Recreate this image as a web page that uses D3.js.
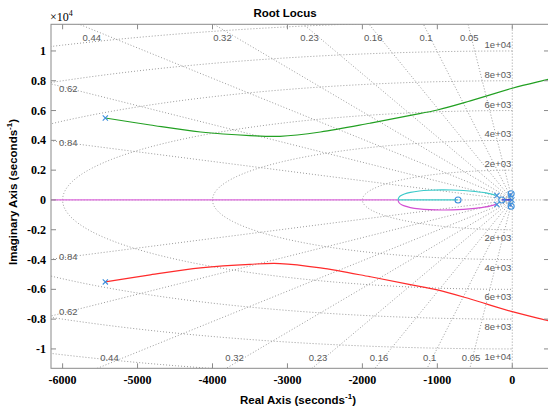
<!DOCTYPE html>
<html>
<head>
<meta charset="utf-8">
<script src="https://cdn.jsdelivr.net/npm/d3@7"></script>
<style>
  body { margin: 0; background: #fff; }
  svg { display: block; }
</style>
</head>
<body>
<div id="chart"></div>
<script>
// branch points [real, imag]
const greenBranch = [[-5430, 5500], [-4830, 5030], [-4160, 4560], [-3500, 4320], [-3100, 4270], [-2560, 4560],
    [-1900, 5150], [-1360, 5680], [-1000, 6040], [-560, 6650], [0, 7500], [480, 8100], [760, 8450]];
const redBranch = [[-5430, -5500], [-4830, -5030], [-4160, -4560], [-3500, -4320], [-3100, -4270], [-2560, -4560],
    [-1900, -5150], [-1360, -5680], [-1000, -6040], [-560, -6650], [0, -7500], [480, -8100], [760, -8450]];
const cyanArc = [[-205, 300], [-350, 470], [-500, 570], [-650, 635], [-800, 668], [-950, 675], [-1100, 650],
    [-1240, 600], [-1360, 510], [-1440, 400], [-1490, 280], [-1515, 150], [-1524, 0]];
const cyanReal = [[-1524, 0], [-724, 0]];
const magentaArc = [[-205, -300], [-350, -470], [-500, -570], [-650, -635], [-800, -668], [-950, -675], [-1100, -650],
    [-1240, -600], [-1360, -510], [-1440, -400], [-1490, -280], [-1515, -150], [-1524, 0]];
const magentaReal = [[-1524, 0], [-7000, 0]];
const blueBranch = [[-5, 0], [-140, 0]];
const blueUpper = [[-25, 330], [-15, 420]];
const blueLower = [[-25, -330], [-15, -420]];

const poles = [[-5430, 5500], [-5430, -5500], [-205, 300], [-205, -300], [-5, 0], [-25, 330], [-25, -330]];
const zeros = [[-724, 0], [-140, 0], [-15, 420], [-15, -420]];

// sgrid
const zetaValues = [0.05, 0.1, 0.16, 0.23, 0.32, 0.44, 0.62, 0.84];
const zetaLabels = ["0.05", "0.1", "0.16", "0.23", "0.32", "0.44", "0.62", "0.84"];
const wnValues = [2000, 4000, 6000, 8000, 10000, 12000];
const wnLabels = ["2e+03", "4e+03", "6e+03", "8e+03", "1e+04", "1.2e+04"];

// ticks
const xTicks = [-6000, -5000, -4000, -3000, -2000, -1000, 0];
const yTicks = [-10000, -8000, -6000, -4000, -2000, 0, 2000, 4000, 6000, 8000, 10000];

const W = 548, H = 412;
const plot = { left: 51, right: 549, top: 24.3, bottom: 368.3 };

const svg = d3.select("#chart").append("svg")
    .attr("width", W).attr("height", H);

const x = d3.scaleLinear().domain([-6155, 490]).range([plot.left, plot.right]);
const y = d3.scaleLinear().domain([-11300, 11790]).range([plot.bottom, plot.top]);

svg.append("defs").append("clipPath").attr("id", "clip")
    .append("rect")
    .attr("x", plot.left).attr("y", plot.top)
    .attr("width", plot.right - plot.left).attr("height", plot.bottom - plot.top);

const gridG = svg.append("g").attr("clip-path", "url(#clip)");
const line = d3.line().x(d => x(d[0])).y(d => y(d[1]));
const gridStyle = sel => sel.attr("fill", "none").attr("stroke", "#9a9a9a")
    .attr("stroke-width", 1).attr("stroke-dasharray", "1,2");

// 频率圆 (left half plane)
const angles = d3.range(90, 270.5, 1).map(a => a * Math.PI / 180);
wnValues.forEach(wn => {
    gridG.append("path")
        .datum(angles.map(a => [wn * Math.cos(a), wn * Math.sin(a)]))
        .call(gridStyle)
        .attr("d", line);
});

// 阻尼线
zetaValues.forEach(z => {
    const s = Math.sqrt(1 - z * z);
    [1, -1].forEach(sign => {
        gridG.append("path")
            .datum([[0, 0], [-z * 30000, sign * s * 30000]])
            .call(gridStyle)
            .attr("d", line);
    });
});
// axes lines
gridG.append("path").datum([[-7000, 0], [1000, 0]]).call(gridStyle).attr("d", line);
gridG.append("path").datum([[0, -13000], [0, 13000]]).call(gridStyle).attr("d", line);

// grid labels
const labelG = svg.append("g").attr("clip-path", "url(#clip)")
    .style("font-family", "Arial, 'Liberation Sans', sans-serif")
    .style("font-size", "9.5px")
    .attr("fill", "#5a5a5a");

zetaValues.forEach((z, i) => {
    const slope = Math.sqrt(1 - z * z) / z;
    const topEdgeReal = -y.domain()[1] / slope;
    if (x(topEdgeReal) > plot.left + 10) {
        // 上下两端
        const reTop = -11450 / slope, reBot = -10970 / slope;
        labelG.append("text").attr("x", x(reTop)).attr("y", y(11450) + 12)
            .attr("text-anchor", "middle").text(zetaLabels[i]);
        labelG.append("text").attr("x", x(reBot)).attr("y", y(-10970) - 2)
            .attr("text-anchor", "middle").text(zetaLabels[i]);
    } else {
        // 左侧
        const re = -5924;
        [1, -1].forEach(sign => {
            labelG.append("text").attr("x", x(re)).attr("y", y(-re * slope * sign) + 3.5)
                .attr("text-anchor", "middle").text(zetaLabels[i]);
        });
    }
});

// 频率标签, only the ones inside the frame
wnValues.forEach((wn, i) => {
    if (wn + 1000 > y.domain()[1]) return;
    labelG.append("text").attr("x", x(0) - 1).attr("y", y(wn) - 3)
        .attr("text-anchor", "end").text(wnLabels[i]);
    labelG.append("text").attr("x", x(0) - 1).attr("y", y(-wn) + 11)
        .attr("text-anchor", "end").text(wnLabels[i]);
});

// 根轨迹
const locusG = svg.append("g").attr("clip-path", "url(#clip)");
const smooth = d3.line().curve(d3.curveCatmullRom).x(d => x(d[0])).y(d => y(d[1]));
const branches = [
    [greenBranch, "#22a022", smooth],
    [redBranch, "#ff2b2b", smooth],
    [magentaReal, "#dc6adc", line],
    [magentaArc, "#d24fd2", smooth],
    [cyanArc, "#3ccaca", smooth],
    [cyanReal, "#3ccaca", line],
    [blueBranch, "#2020d8", line],
    [blueUpper, "#2020d8", line],
    [blueLower, "#2020d8", line]
];
branches.forEach(([pts, color, gen]) => {
    locusG.append("path")
        .datum(pts)
        .attr("fill", "none")
        .attr("stroke", color)
        .attr("stroke-width", 1.2)
        .attr("d", gen);
});

const markerColor = "#3d8fdc";
locusG.selectAll(".zero")
    .data(zeros)
    .enter()
    .append("circle")
    .attr("class", "zero")
    .attr("cx", d => x(d[0]))
    .attr("cy", d => y(d[1]))
    .attr("r", 3)
    .attr("fill", "none")
    .attr("stroke", markerColor)
    .attr("stroke-width", 1.1);

locusG.selectAll(".pole")
    .data(poles)
    .enter()
    .append("path")
    .attr("class", "pole")
    .attr("d", d => {
        const cx = x(d[0]), cy = y(d[1]), r = 2.6;
        return `M${cx - r},${cy - r}L${cx + r},${cy + r}M${cx - r},${cy + r}L${cx + r},${cy - r}`;
    })
    .attr("stroke", markerColor)
    .attr("stroke-width", 1.1);

// 坐标框和刻度
const axisColor = "#8a8a8a";
svg.append("rect")
    .attr("x", plot.left).attr("y", plot.top)
    .attr("width", plot.right - plot.left).attr("height", plot.bottom - plot.top)
    .attr("fill", "none").attr("stroke", axisColor).attr("stroke-width", 1);

const tickLen = 5;
xTicks.forEach(t => {
    svg.append("line").attr("x1", x(t)).attr("x2", x(t))
        .attr("y1", plot.bottom).attr("y2", plot.bottom - tickLen).attr("stroke", axisColor);
    svg.append("line").attr("x1", x(t)).attr("x2", x(t))
        .attr("y1", plot.top).attr("y2", plot.top + tickLen).attr("stroke", axisColor);
});
yTicks.forEach(t => {
    svg.append("line").attr("x1", plot.left).attr("x2", plot.left + tickLen)
        .attr("y1", y(t)).attr("y2", y(t)).attr("stroke", axisColor);
    svg.append("line").attr("x1", plot.right).attr("x2", plot.right - tickLen)
        .attr("y1", y(t)).attr("y2", y(t)).attr("stroke", axisColor);
});

const tickFont = "'Liberation Serif', 'Times New Roman', serif";
svg.append("g")
    .selectAll("text")
    .data(xTicks)
    .enter()
    .append("text")
    .attr("x", d => x(d))
    .attr("y", 384)
    .attr("text-anchor", "middle")
    .style("font-family", tickFont)
    .style("font-weight", "bold")
    .style("font-size", "12px")
    .text(d => d);

svg.append("g")
    .selectAll("text")
    .data(yTicks)
    .enter()
    .append("text")
    .attr("x", plot.left - 5)
    .attr("y", d => y(d) + 4)
    .attr("text-anchor", "end")
    .style("font-family", tickFont)
    .style("font-weight", "bold")
    .style("font-size", "12px")
    .text(d => d === 0 ? "0" : String(+(d / 1e4).toFixed(1)));

// ×10^4
const expText = svg.append("text")
    .attr("x", 50).attr("y", 21)
    .style("font-family", tickFont)
    .style("font-size", "12px")
    .text("×10");
expText.append("tspan").attr("dy", -5).style("font-size", "8px").text("4");

// 标题和轴标签
const labelFont = "Arial, 'Liberation Sans', sans-serif";
svg.append("text")
    .attr("x", 285).attr("y", 17)
    .attr("text-anchor", "middle")
    .style("font-family", labelFont)
    .style("font-weight", "bold")
    .style("font-size", "11.5px")
    .text("Root Locus");

const xLabel = svg.append("text")
    .attr("x", 298).attr("y", 404)
    .attr("text-anchor", "middle")
    .style("font-family", labelFont)
    .style("font-weight", "bold")
    .style("font-size", "11.5px")
    .text("Real Axis (seconds");
xLabel.append("tspan").attr("dy", -5).style("font-size", "8px").text("-1");
xLabel.append("tspan").attr("dy", 5).text(")");

const yLabel = svg.append("text")
    .attr("transform", "translate(17,192) rotate(-90)")
    .attr("text-anchor", "middle")
    .style("font-family", labelFont)
    .style("font-weight", "bold")
    .style("font-size", "11.5px")
    .text("Imaginary Axis (seconds");
yLabel.append("tspan").attr("dy", -5).style("font-size", "8px").text("-1");
yLabel.append("tspan").attr("dy", 5).text(")");
</script>
</body>
</html>
